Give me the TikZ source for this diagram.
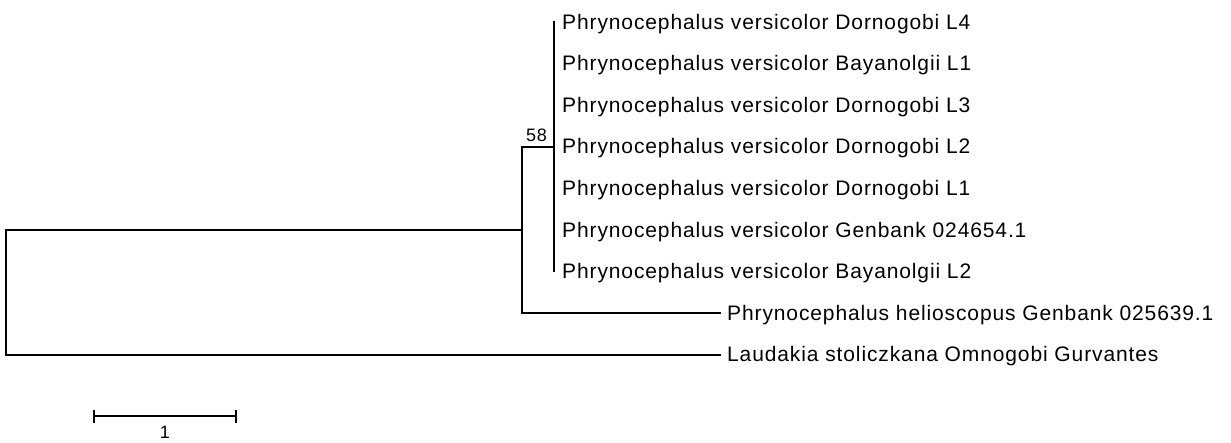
\documentclass[tikz,border=0pt]{standalone}
\usepackage{fontspec}
\newfontfamily\leaffont{Liberation Sans}[LetterSpace=4.2]
\newfontfamily\smallfont{Liberation Sans}[LetterSpace=3]
\begin{document}
\begin{tikzpicture}[x=1pt,y=-1pt,
  branch/.style={line width=1.7pt, line cap=rect},
  leaf/.style={anchor=base west, inner sep=0pt, yshift=-7pt, font=\leaffont\fontsize{21}{24}\selectfont},
  support/.style={anchor=base east, inner sep=0pt, font=\smallfont\fontsize{18}{20}\selectfont},
  scalelbl/.style={anchor=base, inner sep=0pt, font=\smallfont\fontsize{18}{20}\selectfont}]
\useasboundingbox (0,0) rectangle (1231,442);
% tree nodes
\coordinate (root) at (6,230);
\coordinate (n1) at (522,230);
\coordinate (n2) at (554,147);
\coordinate (t1) at (554,22);
\coordinate (t7) at (554,271.6);
\coordinate (t8) at (720,313.2);
\coordinate (t9) at (720,354.8);
% leaves
\node[leaf] (l1) at (562,22) {Phrynocephalus versicolor Dornogobi L4};
\node[leaf] (l2) at (562,63.6) {Phrynocephalus versicolor Bayanolgii L1};
\node[leaf] (l3) at (562,105.2) {Phrynocephalus versicolor Dornogobi L3};
\node[leaf] (l4) at (562,146.8) {Phrynocephalus versicolor Dornogobi L2};
\node[leaf] (l5) at (562,188.4) {Phrynocephalus versicolor Dornogobi L1};
\node[leaf] (l6) at (562,230) {Phrynocephalus versicolor Genbank 024654.1};
\node[leaf] (l7) at (562,271.6) {Phrynocephalus versicolor Bayanolgii L2};
\node[leaf] (l8) at (727,313.2) {Phrynocephalus helioscopus Genbank 025639.1};
\node[leaf] (l9) at (727,354.8) {Laudakia stoliczkana Omnogobi Gurvantes};
% branches
\draw[branch] (t1) -- (t7);
\draw[branch] (n2) -- (n2 -| n1);
\draw[branch] (n2 -| n1) -- (n1 |- t8) -- (t8);
\draw[branch] (n1) -- (root);
\draw[branch] (root) -- (root |- t9) -- (t9);
% support value
\node[support] (s58) at (547,141) {58};
% scale bar
\coordinate (sb1) at (94,416);
\coordinate (sb2) at (236,416);
\draw[branch, line cap=butt] (sb1) -- (sb2);
\draw[branch, line cap=butt] ([yshift=-6.5pt]sb1) -- ([yshift=6.5pt]sb1);
\draw[branch, line cap=butt] ([yshift=-6.5pt]sb2) -- ([yshift=6.5pt]sb2);
\node[scalelbl] (sl) at (165,438) {1};
\end{tikzpicture}
\end{document}
